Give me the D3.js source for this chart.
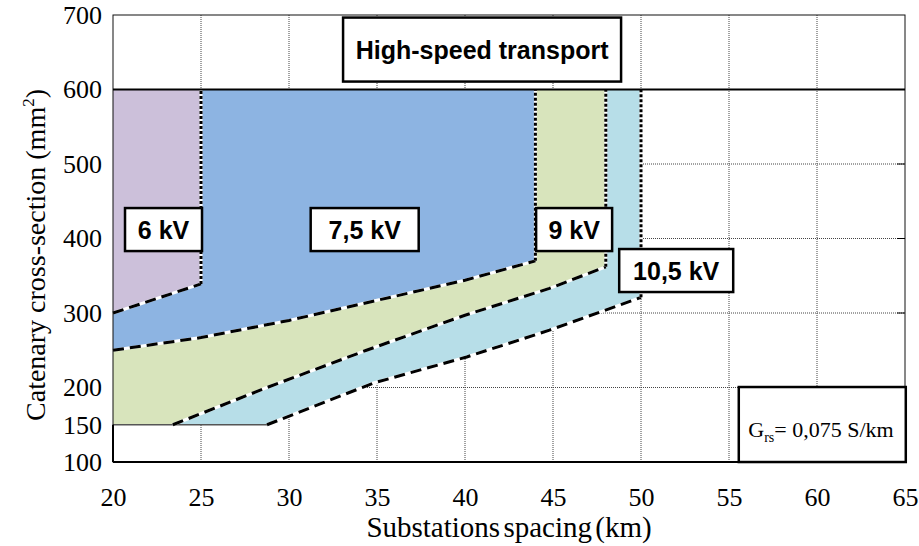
<!DOCTYPE html>
<html>
<head>
<meta charset="utf-8">
<script src="https://cdn.jsdelivr.net/npm/d3@7"></script>
<style>
  body { margin: 0; background: #fff; }
  svg { display: block; }
</style>
</head>
<body>
<div id="chart"></div>
<script>
// axis ticks
const xTicks = [20, 25, 30, 35, 40, 45, 50, 55, 60, 65];
const yTicks = [100, 150, 200, 300, 400, 500, 600, 700];
const yGrid = [200, 300, 400, 500];

// upper cross-section limit and spacing limits of each voltage zone
const sectionMax = 600;
const sectionMin = 150;
const zoneNames = ['6 kV', '7,5 kV', '9 kV', '10,5 kV'];
const zoneColors = ['#CCC0DA', '#8DB4E2', '#D8E4BC', '#B7DEE8'];
const zoneMaxSpacing = [25, 44, 48, 50];

// lower boundary of each zone [spacing km, section mm2]
const bound6 = [[20, 300], [25, 339]];
const bound75 = [[20, 250], [25, 267], [30, 290], [35, 317], [40, 344], [44, 370]];
const bound9 = [[23.4, 150], [28.75, 200], [34.4, 250], [40, 297], [44.8, 333], [48, 362]];
const bound105 = [[28.75, 150], [34.8, 206], [40.1, 241], [44.8, 277], [50, 321]];
const zoneBounds = [bound6, bound75, bound9, bound105];

// annotation boxes (centre in data units)
const zoneLabelPos = [[22.87, 412], [34.3, 412], [46.2, 412], [52.0, 357]];
const titleText = 'High-speed transport';
const titlePos = [40.97, 653.6];

const W = 919, H = 546;
const margin = { top: 15, right: 14, bottom: 84, left: 113 };
const serif = '"Times New Roman", "Liberation Serif", serif';
const sans = 'Arial, "Liberation Sans", sans-serif';

const svg = d3.select('#chart').append('svg')
  .attr('width', W)
  .attr('height', H);

const x = d3.scaleLinear().domain([20, 65]).range([margin.left, W - margin.right]);
const y = d3.scaleLinear().domain([100, 700]).range([H - margin.bottom, margin.top]);

// grid
const grid = svg.append('g').attr('stroke', '#444').attr('stroke-width', 1).attr('stroke-dasharray', '1,1');
grid.selectAll('.vg').data(xTicks.slice(1, -1)).join('line')
  .attr('x1', d => x(d)).attr('x2', d => x(d))
  .attr('y1', y(100)).attr('y2', y(700));
grid.selectAll('.hg').data(yGrid).join('line')
  .attr('x1', x(20)).attr('x2', x(65))
  .attr('y1', d => y(d)).attr('y2', d => y(d));

// zone polygons, widest first so narrower zones sit on top
const line = d3.line().x(d => x(d[0])).y(d => y(d[1]));
function zonePoly(i) {
  const b = zoneBounds[i];
  const pts = [[20, sectionMax], [zoneMaxSpacing[i], sectionMax]];
  b.slice().reverse().forEach(p => pts.push(p));
  if (b[0][0] > 20) pts.push([20, sectionMin]);
  return pts;
}
const fills = svg.append('g');
[3, 2, 1, 0].forEach(i => {
  fills.append('path')
    .attr('d', line(zonePoly(i)) + 'Z')
    .attr('fill', zoneColors[i])
    .attr('stroke', 'none');
});

// bottom edge of the coloured area at 150 mm2
svg.append('line')
  .attr('x1', x(20)).attr('x2', x(bound105[0][0]))
  .attr('y1', y(sectionMin)).attr('y2', y(sectionMin))
  .attr('stroke', '#555').attr('stroke-width', 1.5);

// dashed lower boundaries
const bounds = svg.append('g').attr('fill', 'none');
zoneBounds.forEach(b => {
  bounds.append('path').attr('d', line(b)).attr('stroke', '#fff').attr('stroke-width', 3);
  bounds.append('path').attr('d', line(b)).attr('stroke', '#000').attr('stroke-width', 3)
    .attr('stroke-dasharray', '11,6');
});

// dotted vertical limits
zoneBounds.forEach((b, i) => {
  const xs = zoneMaxSpacing[i];
  const yb = b[b.length - 1][1];
  bounds.append('line').attr('x1', x(xs)).attr('x2', x(xs))
    .attr('y1', y(yb)).attr('y2', y(sectionMax))
    .attr('stroke', '#fff').attr('stroke-width', 3);
  bounds.append('line').attr('x1', x(xs)).attr('x2', x(xs))
    .attr('y1', y(yb)).attr('y2', y(sectionMax))
    .attr('stroke', '#000').attr('stroke-width', 3).attr('stroke-dasharray', '3,2');
});

// frame
svg.append('rect')
  .attr('x', x(20)).attr('y', y(700))
  .attr('width', x(65) - x(20)).attr('height', y(100) - y(700))
  .attr('fill', 'none').attr('stroke', '#111').attr('stroke-width', 1);
svg.append('line')
  .attr('x1', x(20)).attr('x2', x(65))
  .attr('y1', y(100)).attr('y2', y(100))
  .attr('stroke', '#000').attr('stroke-width', 2);
svg.append('line')
  .attr('x1', x(20)).attr('x2', x(20))
  .attr('y1', y(100)).attr('y2', y(sectionMin))
  .attr('stroke', '#000').attr('stroke-width', 2);
svg.append('line')
  .attr('x1', x(20)).attr('x2', x(65))
  .attr('y1', y(sectionMax)).attr('y2', y(sectionMax))
  .attr('stroke', '#000').attr('stroke-width', 2);
// inward ticks on right border
svg.append('g').selectAll('line').data(yGrid).join('line')
  .attr('x1', x(65) - 8).attr('x2', x(65))
  .attr('y1', d => y(d)).attr('y2', d => y(d))
  .attr('stroke', '#000').attr('stroke-width', 1);

// axes
const xAxis = svg.append('g')
  .attr('transform', `translate(0,${y(100)})`)
  .attr('font-family', serif).attr('font-size', 26)
  .call(d3.axisBottom(x).tickValues(xTicks).tickSize(0).tickPadding(26));
xAxis.select('.domain').remove();
xAxis.attr('font-family', serif).attr('font-size', 26);
xAxis.selectAll('text').style('font-family', serif).style('font-size', '26px').attr('fill', '#000');

const yAxis = svg.append('g')
  .attr('transform', `translate(${x(20)},0)`)
  .call(d3.axisLeft(y).tickValues(yTicks).tickSize(0).tickPadding(11));
yAxis.select('.domain').remove();
yAxis.attr('font-family', serif).attr('font-size', 26);
yAxis.selectAll('text').style('font-family', serif).style('font-size', '26px').attr('fill', '#000');

svg.append('text')
  .attr('x', (x(20) + x(65)) / 2).attr('y', 537)
  .attr('text-anchor', 'middle')
  .attr('font-family', serif)
  .attr('font-size', 29)
  .attr('word-spacing', -4)
  .text('Substations spacing (km)');

const yLab = svg.append('text')
  .attr('transform', 'translate(45,255) rotate(-90)')
  .attr('text-anchor', 'middle')
  .attr('font-family', serif)
  .attr('font-size', 28);
yLab.append('tspan').text('Catenary cross-section (mm');
yLab.append('tspan').attr('font-size', 17).attr('dy', -11).text('2');
yLab.append('tspan').attr('dy', 11).text(')');

// label boxes
function labelBox(text, cx, cy, w, h) {
  const g = svg.append('g').attr('transform', `translate(${x(cx)},${y(cy)})`);
  g.append('rect')
    .attr('x', -w / 2).attr('y', -h / 2).attr('width', w).attr('height', h)
    .attr('fill', '#fff').attr('stroke', '#000').attr('stroke-width', 2.5);
  g.append('text')
    .attr('text-anchor', 'middle').attr('dy', '0.36em')
    .attr('font-family', sans)
    .attr('font-weight', 'bold').attr('font-size', 25)
    .text(text);
}
const boxWidths = [77, 108, 76, 114];
zoneNames.forEach((n, i) => labelBox(n, zoneLabelPos[i][0], zoneLabelPos[i][1], boxWidths[i], 43));
labelBox(titleText, titlePos[0], titlePos[1], 278, 64);

// conductance note
const note = svg.append('g').attr('transform', `translate(${x(60.3)},${y(150.3)})`);
note.append('rect')
  .attr('x', -83.5).attr('y', -37.5).attr('width', 167).attr('height', 75)
  .attr('fill', '#fff').attr('stroke', '#000').attr('stroke-width', 2.5);
const noteText = note.append('text')
  .attr('x', -74).attr('y', 12)
  .attr('font-family', serif)
  .attr('font-size', 22);
noteText.append('tspan').text('G');
noteText.append('tspan').attr('font-size', 14).attr('dy', 5).text('rs');
noteText.append('tspan').attr('dy', -5).text('= 0,075 S/km');
</script>
</body>
</html>
